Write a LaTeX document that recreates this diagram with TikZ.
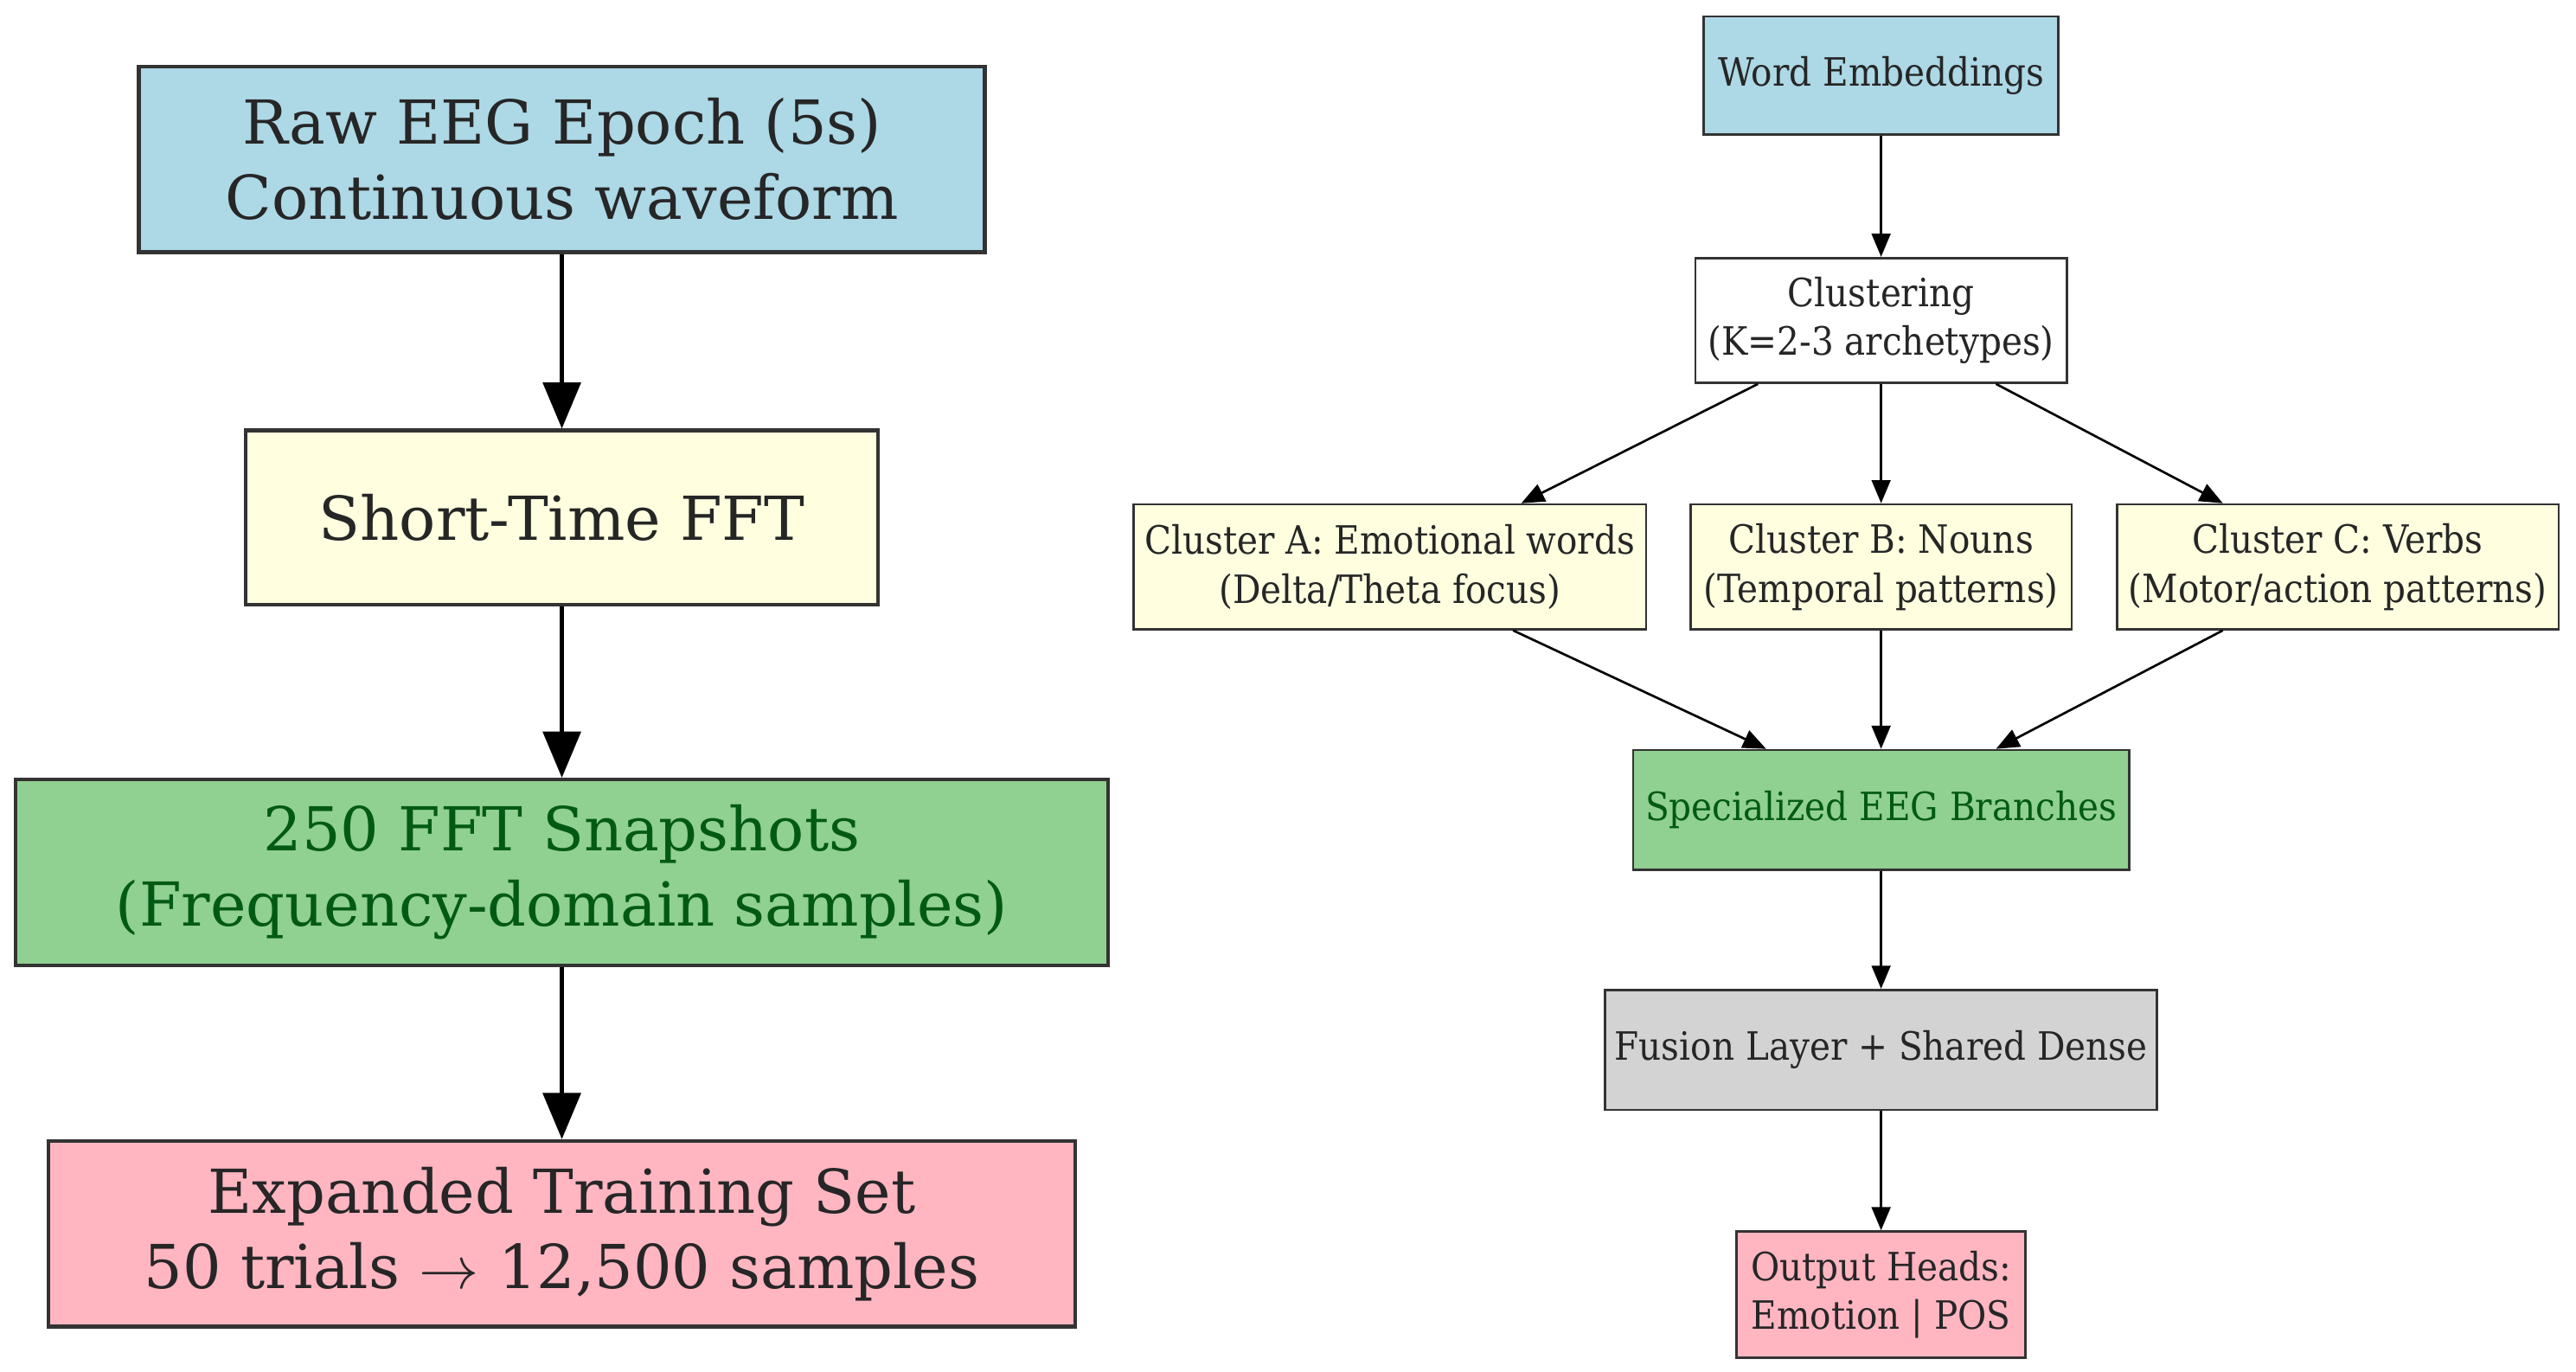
\documentclass[tikz,border=0pt]{standalone}
\usepackage{fontspec}
\setmainfont{DejaVu Serif}
\newfontfamily\condfont{DejaVu Serif Condensed}
\usetikzlibrary{arrows.meta, positioning}
\definecolor{boxblue}{RGB}{173,216,230}
\definecolor{boxyellow}{RGB}{255,255,224}
\definecolor{boxgreen}{RGB}{144,208,144}
\definecolor{boxpink}{RGB}{255,182,193}
\definecolor{boxgray}{RGB}{211,211,211}
\definecolor{textgreen}{RGB}{0,90,20}

\begin{document}
\begin{tikzpicture}[x=0.02cm, y=-0.02cm, big/.style={
        rectangle,
        draw=black!80,
        text=black!85,
        line width=1.3pt,
        align=center,
        inner sep=0pt,
        font=\fontsize{21}{26}\selectfont
    }, small/.style={
        rectangle,
        draw=black!80,
        text=black!85,
        line width=0.8pt,
        align=center,
        inner sep=0pt,
        font=\condfont\fontsize{13.5}{17}\selectfont
    }, bigarrow/.style={
        line width=1.5pt, -{Triangle[length=16pt, width=13pt]}
    }, arrow/.style={
        line width=0.8pt, -{Triangle[length=8pt, width=6.5pt]}
    }]
    \useasboundingbox (0,0) rectangle (1568,835);
    % left pipeline
    \node (raw) [big, fill=boxblue, minimum width=10.3cm, minimum height=2.26cm] at (342,97) {Raw EEG Epoch (5s)\\Continuous waveform};
    \node (stfft) [big, fill=boxyellow, minimum width=7.7cm, minimum height=2.12cm] at (342,315) {Short-Time FFT};
    \node (snap) [big, fill=boxgreen, text=textgreen, minimum width=13.3cm, minimum height=2.26cm] at (342,531) {250 FFT Snapshots\\(Frequency-domain samples)};
    \node (train) [big, fill=boxpink, minimum width=12.5cm, minimum height=2.26cm] at (342,751) {Expanded Training Set\\50 trials $\rightarrow$ 12,500 samples};
    \draw [bigarrow] (raw) -- (stfft);
    \draw [bigarrow] (stfft) -- (snap);
    \draw [bigarrow] (snap) -- (train);
    % right pipeline
    \node (embed) [small, fill=boxblue, minimum width=4.32cm, minimum height=1.44cm] at (1145,46) {Word Embeddings};
    \node (clust) [small, fill=white, minimum width=4.52cm, minimum height=1.52cm] at (1145,195) {Clustering\\(K=2-3 archetypes)};
    \node (clA) [small, fill=boxyellow, minimum width=6.24cm, minimum height=1.52cm] at (846,345) {Cluster A: Emotional words\\(Delta/Theta focus)};
    \node (clB) [small, fill=boxyellow, minimum width=4.64cm, minimum height=1.52cm] at (1145,345) {Cluster B: Nouns\\(Temporal patterns)};
    \node (clC) [small, fill=boxyellow, minimum width=5.38cm, minimum height=1.52cm] at (1423,345) {Cluster C: Verbs\\(Motor/action patterns)};
    \node (branch) [small, fill=boxgreen, text=textgreen, minimum width=6.04cm, minimum height=1.46cm] at (1145,493) {Specialized EEG Branches};
    \node (fusion) [small, fill=boxgray, minimum width=6.72cm, minimum height=1.46cm] at (1145,639) {Fusion Layer + Shared Dense};
    \node (heads) [small, fill=boxpink, minimum width=3.52cm, minimum height=1.54cm] at (1145,788) {Output Heads:\\Emotion | POS};
    \draw [arrow] (embed) -- (clust);
    \draw [arrow] ([xshift=-1.5cm]clust.south) -- ([xshift=1.6cm]clA.north);
    \draw [arrow] (clust) -- (clB);
    \draw [arrow] ([xshift=1.4cm]clust.south) -- ([xshift=-1.4cm]clC.north);
    \draw [arrow] ([xshift=1.5cm]clA.south) -- ([xshift=-1.4cm]branch.north);
    \draw [arrow] (clB) -- (branch);
    \draw [arrow] ([xshift=-1.4cm]clC.south) -- ([xshift=1.4cm]branch.north);
    \draw [arrow] (branch) -- (fusion);
    \draw [arrow] (fusion) -- (heads);
\end{tikzpicture}
\end{document}
